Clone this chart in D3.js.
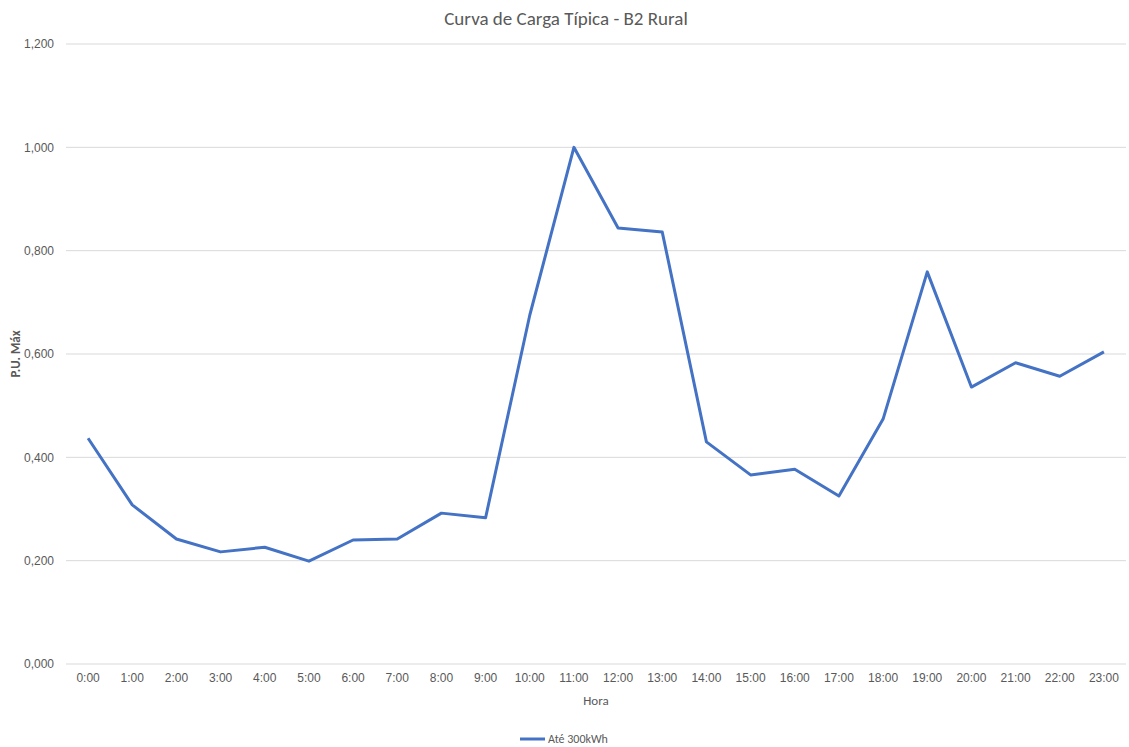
<!DOCTYPE html>
<html>
<head>
<meta charset="utf-8">
<script src="https://cdn.jsdelivr.net/npm/d3@7"></script>
<style>
  html, body { margin: 0; padding: 0; background: #fff; }
  svg { display: block; font-family: Carlito, "Open Sans", "Liberation Sans", sans-serif; }
</style>
</head>
<body>
<svg id="chart" width="1129" height="747"></svg>
<script>
// Typical load curve, per-unit of maximum demand, by hour
const hours = ["0:00","1:00","2:00","3:00","4:00","5:00","6:00","7:00","8:00","9:00","10:00","11:00",
               "12:00","13:00","14:00","15:00","16:00","17:00","18:00","19:00","20:00","21:00","22:00","23:00"];
const puValues = [0.437, 0.308, 0.242, 0.217, 0.226, 0.199, 0.240, 0.242, 0.292, 0.283, 0.675, 1.000,
                  0.844, 0.836, 0.430, 0.366, 0.377, 0.325, 0.474, 0.759, 0.536, 0.583, 0.557, 0.604];
const yTicks = [0, 0.2, 0.4, 0.6, 0.8, 1.0, 1.2];
const seriesName = "Até 300kWh";

const svg = d3.select("#chart");
const margin = { left: 66, right: 3, top: 44, bottom: 83 };
const W = 1129, H = 747;

const x = d3.scaleBand().domain(hours).range([margin.left, W - margin.right]);
const y = d3.scaleLinear().domain([0, 1.2]).range([H - margin.bottom, margin.top]);

const fmt = v => d3.format(",.3f")(v).replace(".", ",");
const textColor = "#595959";

// horizontal gridlines
svg.append("g")
  .selectAll("line")
  .data(yTicks)
  .join("line")
  .attr("x1", margin.left).attr("x2", W - margin.right)
  .attr("y1", d => y(d)).attr("y2", d => y(d))
  .attr("stroke", "#d9d9d9").attr("stroke-width", 1);

// y axis labels
const yAxis = svg.append("g")
  .attr("transform", `translate(${margin.left - 12},0)`)
  .call(d3.axisLeft(y).tickValues(yTicks).tickFormat(fmt).tickSize(0).tickPadding(0));
yAxis.select(".domain").remove();
yAxis.selectAll("text").attr("fill", textColor).style("font-size", "12px");

// x axis labels
const xAxis = svg.append("g")
  .attr("transform", `translate(0,${H - margin.bottom})`)
  .call(d3.axisBottom(x).tickSize(0).tickPadding(9));
xAxis.select(".domain").remove();
xAxis.selectAll("text").attr("fill", textColor).style("font-size", "12px");

// load curve
const line = d3.line()
  .x((d, i) => x(hours[i]) + x.bandwidth() / 2)
  .y(d => y(d));
svg.append("path")
  .datum(puValues)
  .attr("d", line)
  .attr("fill", "none")
  .attr("stroke", "#4472c4")
  .attr("stroke-width", 3)
  .attr("stroke-linejoin", "round");

// title
svg.append("text")
  .attr("x", 566).attr("y", 25)
  .attr("text-anchor", "middle")
  .attr("fill", textColor)
  .style("font-size", "19px")
  .text("Curva de Carga Típica - B2 Rural");

// axis titles
svg.append("text")
  .attr("x", (margin.left + W - margin.right) / 2).attr("y", 705)
  .attr("text-anchor", "middle")
  .attr("fill", textColor)
  .style("font-size", "13px")
  .text("Hora");

svg.append("text")
  .attr("transform", `translate(20,${(y(0) + y(1.2)) / 2}) rotate(-90)`)
  .attr("text-anchor", "middle")
  .attr("fill", textColor)
  .style("font-size", "13px")
  .style("font-weight", "bold")
  .text("P.U. Máx");

// legend
const legend = svg.append("g").attr("transform", "translate(520,739)");
legend.append("line")
  .attr("x1", 0).attr("x2", 25).attr("y1", 0).attr("y2", 0)
  .attr("stroke", "#4472c4").attr("stroke-width", 3);
legend.append("text")
  .attr("x", 28).attr("y", 4)
  .attr("fill", textColor)
  .style("font-size", "12px")
  .text(seriesName);
</script>
</body>
</html>
